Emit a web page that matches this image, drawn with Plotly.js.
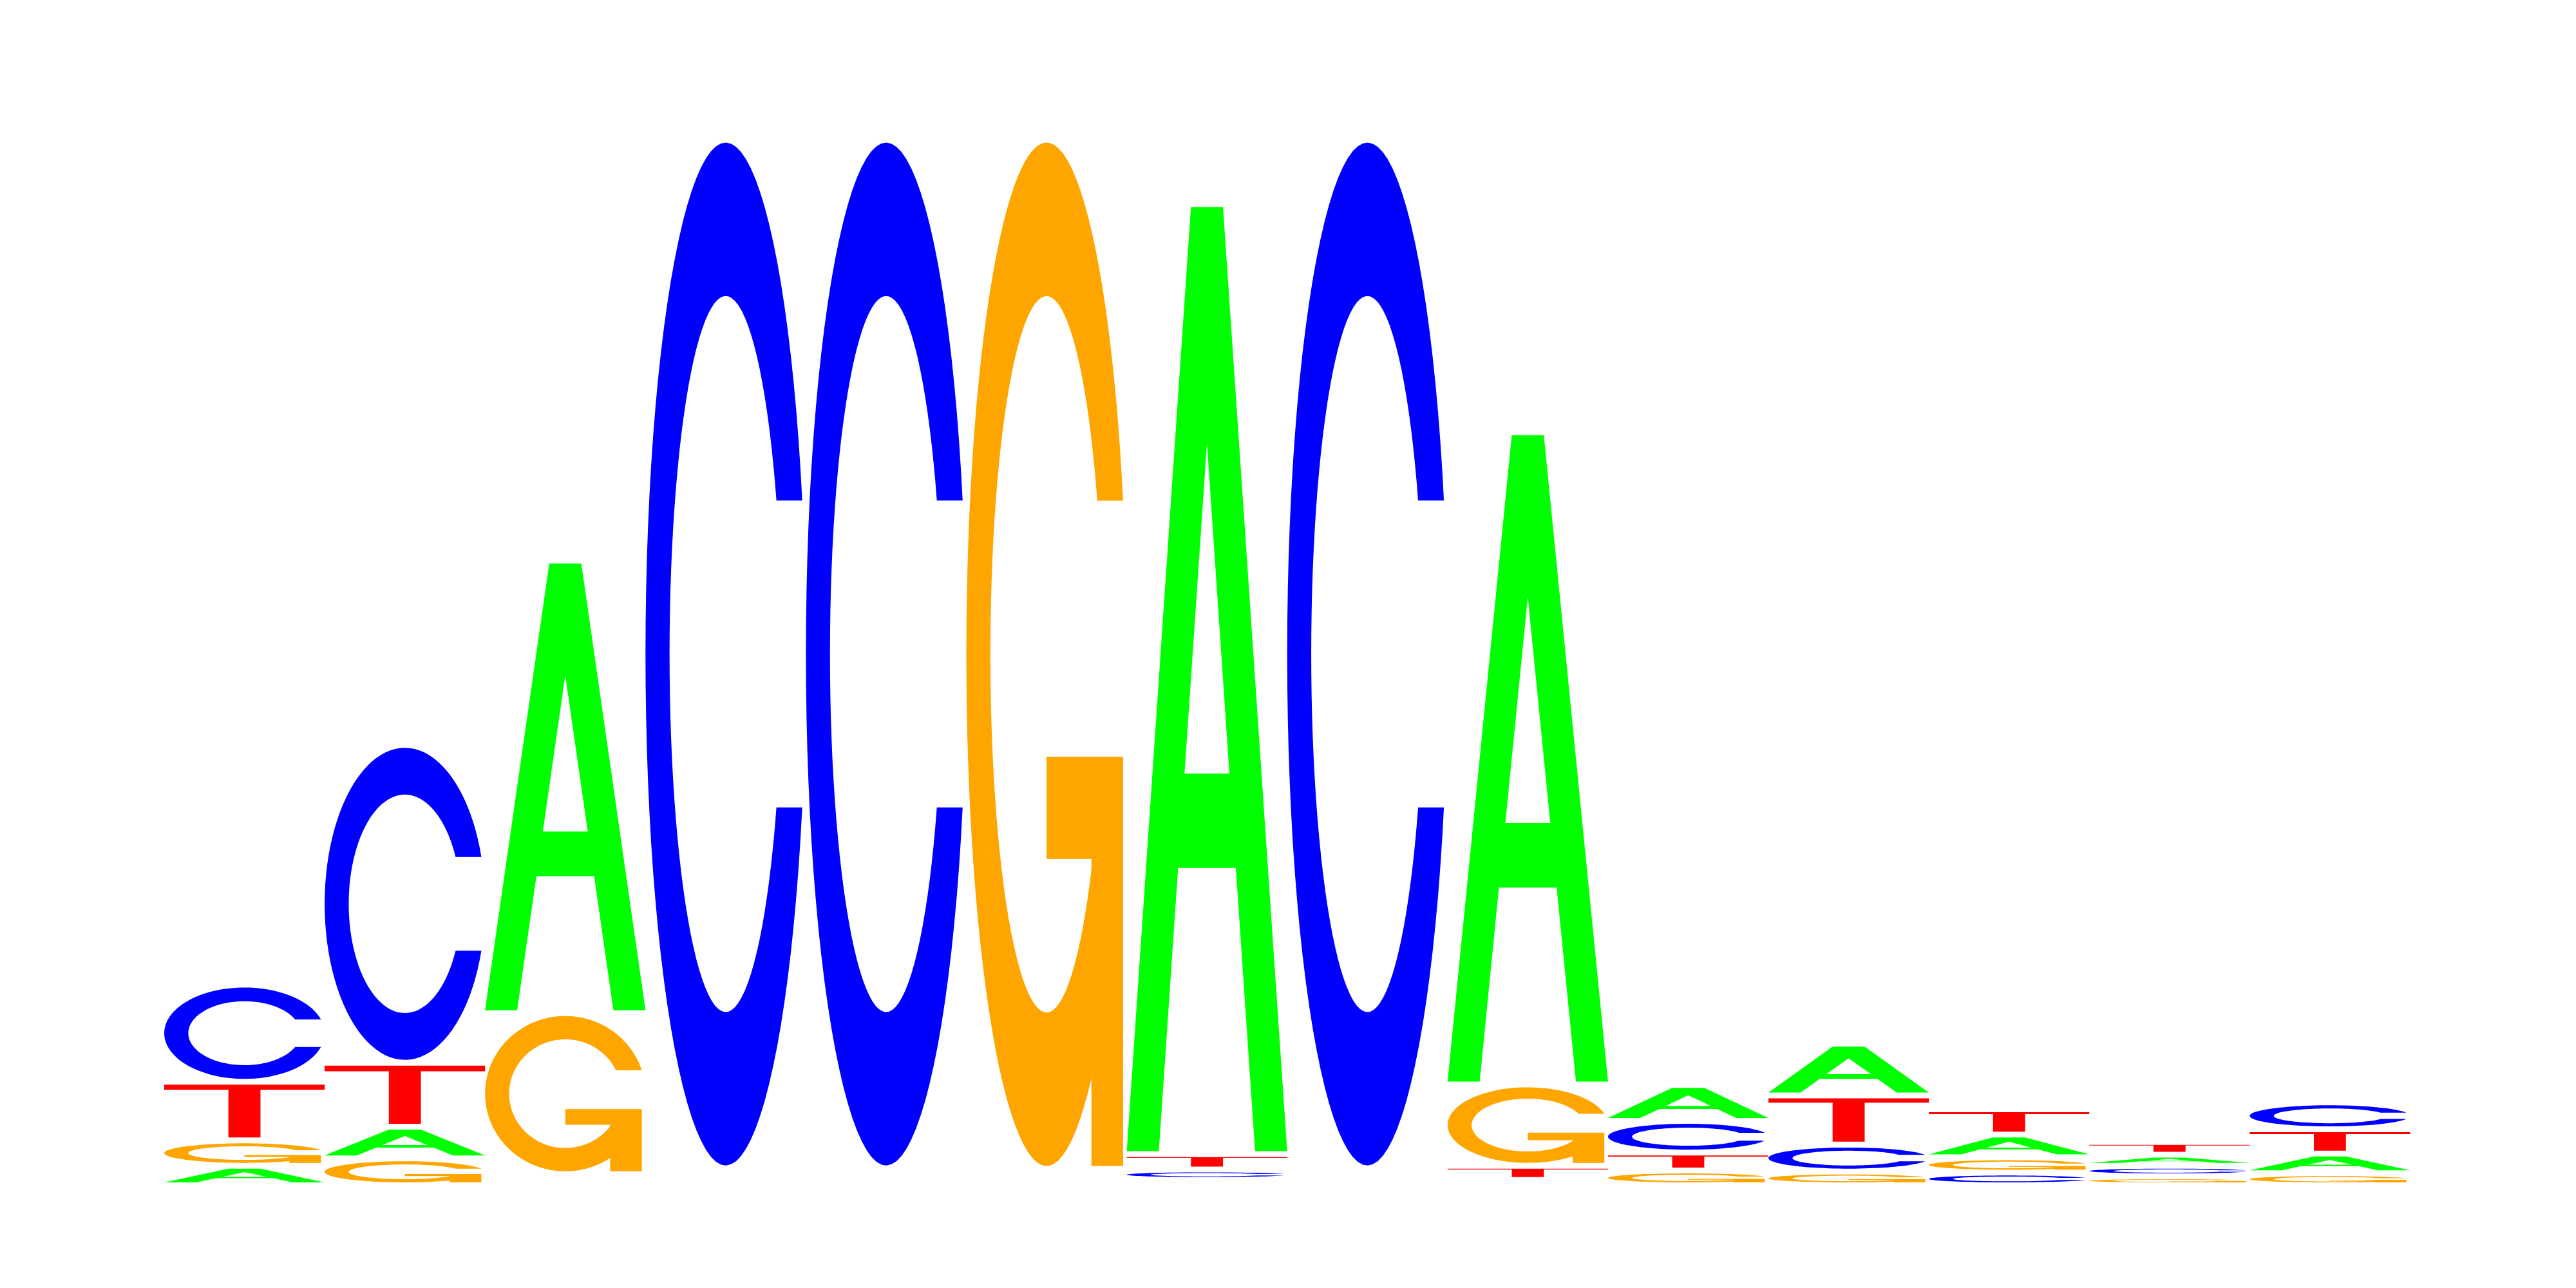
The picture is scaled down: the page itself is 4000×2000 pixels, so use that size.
<!DOCTYPE html>
<html>
<head>
<meta charset="utf-8">
<script src="https://cdn.plot.ly/plotly-3.0.1.min.js"></script>
<style>body{margin:0;background:#fff}</style>
</head>
<body>
<div id="logo" style="width:4000px;height:2000px"></div>
<script>
var positions = [1, 2, 3, 4, 5, 6, 7, 8, 9, 10, 11, 12, 13, 14];
var bitsA = [0.037, 0.060, 0.857, 0.011, 0.011, 0.010, 1.799, 0.011, 1.235, 0.068, 0.098, 0.043, 0.021, 0.037];
var bitsC = [0.184, 0.602, 0.010, 1.948, 1.948, 0.011, 0.020, 1.948, 0.010, 0.060, 0.051, 0.024, 0.020, 0.051];
var bitsG = [0.048, 0.051, 0.305, 0.010, 0.010, 1.949, 0.010, 0.010, 0.154, 0.028, 0.026, 0.029, 0.017, 0.023];
var bitsT = [0.111, 0.121, 0.011, 0.011, 0.011, 0.010, 0.029, 0.011, 0.027, 0.034, 0.093, 0.048, 0.024, 0.046];

var letterColors = {A: '#00ff00', C: '#0000ff', G: '#ffa500', T: '#ff0000'};
var gap = 0.011;   // blank space left above every letter

function arc(cx, cy, r, a0, a1, n) {
    var pts = [];
    for (var i = 0; i <= n; i++) {
        var a = (a0 + (a1 - a0) * i / n) * Math.PI / 180;
        pts.push([cx + r * Math.cos(a), cy + r * Math.sin(a)]);
    }
    return pts;
}

// outlines in a unit box, x across the column, y upwards
function glyph(letter) {
    if (letter == 'A') {
        return [
            [[0, 0], [0.2, 0], [0.32, 0.3], [0.68, 0.3], [0.8, 0], [1, 0], [0.6, 1], [0.4, 1]],
            [[0.36, 0.4], [0.64, 0.4], [0.5, 0.75]]
        ];
    }
    if (letter == 'T') {
        return [[[0, 0.903], [0, 1], [1, 1], [1, 0.903], [0.6, 0.903], [0.6, 0], [0.4, 0], [0.4, 0.903]]];
    }
    if (letter == 'C') {
        return [arc(0.5, 0.5, 0.5, 17.46, 342.54, 90).concat(arc(0.5, 0.5, 0.35, 334.62, 25.38, 90))];
    }
    // G
    var ring = arc(0.5, 0.5, 0.5, 17.46, 304.06, 90);
    ring = ring.concat([[0.78, 0], [0.977, 0], [0.977, 0.4], [0.5, 0.4], [0.5, 0.3], [0.78, 0.3]]);
    ring = ring.concat(arc(0.5, 0.5, 0.35, 323.13, 25.38, 90));
    return [ring];
}

function letterPath(letter, pos, y0, h) {
    var rings = glyph(letter);
    var s = '';
    rings.forEach(function (ring) {
        ring.forEach(function (p, k) {
            var x = pos - 0.5 + p[0];
            var y = y0 + p[1] * h;
            s += (k == 0 ? 'M' : 'L') + x.toFixed(4) + ',' + y.toFixed(4);
        });
        s += 'Z';
    });
    return s;
}

var shapes = [];
positions.forEach(function (pos, i) {
    var col = [
        {l: 'A', v: bitsA[i]},
        {l: 'C', v: bitsC[i]},
        {l: 'G', v: bitsG[i]},
        {l: 'T', v: bitsT[i]}
    ];
    // smallest letter at the bottom
    col.sort(function (a, b) { return a.v - b.v; });
    var y = 0;
    col.forEach(function (c) {
        var h = c.v - gap;
        if (h > 0) {
            shapes.push({
                type: 'path',
                xref: 'x', yref: 'y',
                path: letterPath(c.l, pos, y, h),
                fillcolor: letterColors[c.l],
                fillrule: 'evenodd',
                line: {width: 0},
                layer: 'above'
            });
        }
        y += c.v;
    });
});

var layout = {
    width: 4000,
    height: 2000,
    margin: {l: 0, r: 0, t: 0, b: 0},
    paper_bgcolor: '#ffffff',
    plot_bgcolor: '#ffffff',
    showlegend: false,
    xaxis: {range: [-0.5237, 15.534], showgrid: false, zeroline: false, showticklabels: false, showline: false, ticks: ''},
    yaxis: {range: [-0.2, 2.239], showgrid: false, zeroline: false, showticklabels: false, showline: false, ticks: ''},
    shapes: shapes
};

Plotly.newPlot('logo', [], layout, {displayModeBar: false, staticPlot: true});
</script>
</body>
</html>
